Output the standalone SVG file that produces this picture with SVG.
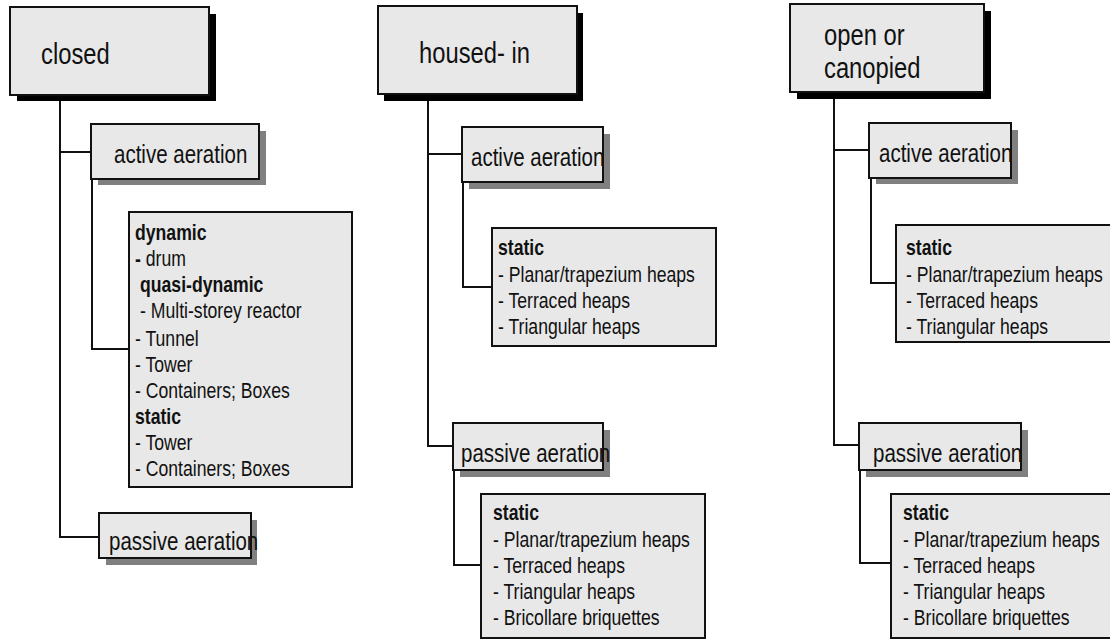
<svg xmlns="http://www.w3.org/2000/svg" width="1110" height="639" viewBox="0 0 1110 639">
  <style>
    text { font-family: "Liberation Sans", Arial, sans-serif; fill: #111; }
    .box { fill: #e8e8e8; stroke: #111; stroke-width: 2; }
    .sh-dark { fill: #000; }
    .sh-grey { fill: #808080; }
    .head { font-size: 29px; }
    .sub { font-size: 25px; }
    .list { font-size: 21.5px; }
    .b { font-weight: bold; }
    .conn { fill: none; stroke: #111; stroke-width: 2; }
  </style>

  <rect width="1110" height="639" fill="#fff"/>

  <!-- tree connectors -->
  <g id="connectors">
    <!-- closed -->
    <path class="conn" d="M60 95 V537 H99"/>
    <path class="conn" d="M60 152 H91"/>
    <path class="conn" d="M92 179 V349 H129"/>
    <!-- housed-in -->
    <path class="conn" d="M428 94 V446 H453"/>
    <path class="conn" d="M428 154 H462"/>
    <path class="conn" d="M463 182 V287 H492"/>
    <path class="conn" d="M454 470 V565 H481"/>
    <!-- open or canopied -->
    <path class="conn" d="M834 92 V445 H859"/>
    <path class="conn" d="M834 150 H869"/>
    <path class="conn" d="M871 178 V283 H896"/>
    <path class="conn" d="M860 470 V563 H891"/>
  </g>

  <!-- labels use a narrowed sans: each text is placed by translate() and squeezed to 82% width -->

  <!-- column 1: closed -->
  <g id="closed">
    <rect class="sh-dark" x="17" y="14" width="199" height="87"/>
    <rect class="box" x="10" y="7" width="199" height="88"/>
    <text class="head" transform="translate(41 64) scale(0.82 1)">closed</text>
  </g>
  <g id="closed-active">
    <rect class="sh-grey" x="98" y="131" width="168" height="54"/>
    <rect class="box" x="91" y="124" width="168" height="55"/>
    <text class="sub" transform="translate(114 163) scale(0.82 1)">active aeration</text>
  </g>
  <g id="closed-active-list">
    <rect class="box" x="129" y="212" width="223" height="275"/>
    <text class="list b" transform="translate(135 240) scale(0.82 1)">dynamic</text>
    <text class="list" transform="translate(135 266) scale(0.82 1)"><tspan class="b">-</tspan> drum</text>
    <text class="list b" transform="translate(140 292) scale(0.82 1)">quasi-dynamic</text>
    <text class="list" transform="translate(140 318) scale(0.82 1)">- Multi-storey reactor</text>
    <text class="list" transform="translate(135 346) scale(0.82 1)">- Tunnel</text>
    <text class="list" transform="translate(135 372) scale(0.82 1)">- Tower</text>
    <text class="list" transform="translate(135 398) scale(0.82 1)">- Containers; Boxes</text>
    <text class="list b" transform="translate(135 424) scale(0.82 1)">static</text>
    <text class="list" transform="translate(135 450) scale(0.82 1)">- Tower</text>
    <text class="list" transform="translate(135 476) scale(0.82 1)">- Containers; Boxes</text>
  </g>
  <g id="closed-passive">
    <rect class="sh-grey" x="106" y="520" width="151" height="45"/>
    <rect class="box" x="99" y="513" width="152" height="45"/>
    <text class="sub" transform="translate(109 550) scale(0.82 1)">passive aeration</text>
  </g>

  <!-- column 2: housed-in -->
  <g id="housed-in">
    <rect class="sh-dark" x="384" y="13" width="199" height="88"/>
    <rect class="box" x="378" y="6" width="199" height="88"/>
    <text class="head" transform="translate(419 63) scale(0.82 1)">housed- in</text>
  </g>
  <g id="housed-active">
    <rect class="sh-grey" x="469" y="134" width="141" height="55"/>
    <rect class="box" x="462" y="127" width="141" height="55"/>
    <text class="sub" transform="translate(471 166) scale(0.82 1)">active aeration</text>
  </g>
  <g id="housed-active-list">
    <rect class="box" x="492" y="228" width="224" height="118"/>
    <text class="list b" transform="translate(498 255) scale(0.82 1)">static</text>
    <text class="list" transform="translate(498 282) scale(0.82 1)">- Planar/trapezium heaps</text>
    <text class="list" transform="translate(498 308) scale(0.82 1)">- Terraced heaps</text>
    <text class="list" transform="translate(498 334) scale(0.82 1)">- Triangular heaps</text>
  </g>
  <g id="housed-passive">
    <rect class="sh-grey" x="460" y="430" width="150" height="47"/>
    <rect class="box" x="453" y="423" width="150" height="47"/>
    <text class="sub" transform="translate(461 462) scale(0.82 1)">passive aeration</text>
  </g>
  <g id="housed-passive-list">
    <rect class="box" x="481" y="494" width="224" height="144"/>
    <text class="list b" transform="translate(493 520) scale(0.82 1)">static</text>
    <text class="list" transform="translate(493 547) scale(0.82 1)">- Planar/trapezium heaps</text>
    <text class="list" transform="translate(493 573) scale(0.82 1)">- Terraced heaps</text>
    <text class="list" transform="translate(493 599) scale(0.82 1)">- Triangular heaps</text>
    <text class="list" transform="translate(493 625) scale(0.82 1)">- Bricollare briquettes</text>
  </g>

  <!-- column 3: open or canopied -->
  <g id="open-canopied">
    <rect class="sh-dark" x="797" y="11" width="194" height="88"/>
    <rect class="box" x="790" y="4" width="194" height="88"/>
    <text class="head" transform="translate(824 45) scale(0.82 1)">open or</text>
    <text class="head" transform="translate(824 78) scale(0.82 1)">canopied</text>
  </g>
  <g id="open-active">
    <rect class="sh-grey" x="876" y="130" width="142" height="54"/>
    <rect class="box" x="869" y="123" width="142" height="55"/>
    <text class="sub" transform="translate(879 162) scale(0.82 1)">active aeration</text>
  </g>
  <g id="open-active-list">
    <rect class="box" x="896" y="225" width="220" height="117"/>
    <text class="list b" transform="translate(906 255) scale(0.82 1)">static</text>
    <text class="list" transform="translate(906 282) scale(0.82 1)">- Planar/trapezium heaps</text>
    <text class="list" transform="translate(906 308) scale(0.82 1)">- Terraced heaps</text>
    <text class="list" transform="translate(906 334) scale(0.82 1)">- Triangular heaps</text>
  </g>
  <g id="open-passive">
    <rect class="sh-grey" x="866" y="430" width="162" height="47"/>
    <rect class="box" x="859" y="423" width="162" height="47"/>
    <text class="sub" transform="translate(873 462) scale(0.82 1)">passive aeration</text>
  </g>
  <g id="open-passive-list">
    <rect class="box" x="891" y="494" width="225" height="144"/>
    <text class="list b" transform="translate(903 520) scale(0.82 1)">static</text>
    <text class="list" transform="translate(903 547) scale(0.82 1)">- Planar/trapezium heaps</text>
    <text class="list" transform="translate(903 573) scale(0.82 1)">- Terraced heaps</text>
    <text class="list" transform="translate(903 599) scale(0.82 1)">- Triangular heaps</text>
    <text class="list" transform="translate(903 625) scale(0.82 1)">- Bricollare briquettes</text>
  </g>
</svg>
